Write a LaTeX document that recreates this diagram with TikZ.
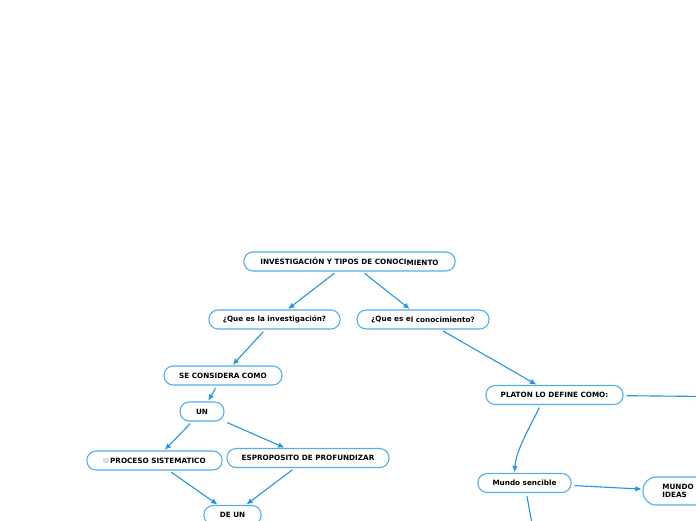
\documentclass[tikz,border=0pt]{standalone}
\usepackage{fontspec}
\setmainfont{DejaVu Sans}
\usetikzlibrary{arrows.meta}
\definecolor{linkblue}{RGB}{36,150,222}
\definecolor{boxblue}{RGB}{86,174,232}
\begin{document}
\begin{tikzpicture}[x=0.025cm, y=-0.025cm,
  topic/.style={draw=boxblue, line width=0.8pt, rounded corners=0.23cm, minimum height=0.475cm, fill=white, inner sep=1pt, align=center, font=\bfseries\fontsize{5.15}{6}\selectfont},
  link/.style={linkblue, line width=0.8pt, shorten <=2pt},
  arrow/.style={link, -{Latex[length=4.5pt, width=4pt]}, shorten >=0.5pt}
]
\useasboundingbox (0,0) rectangle (696,520);
\clip (0,0) rectangle (696,520);

% Root at y=261
\node[topic, minimum width=5.28cm] (root) at (349.5,261.5) {INVESTIGACIÓN Y TIPOS DE CONOCI\raisebox{-0.6pt}{MIENTO}};

% Questions at y=319
\node[topic, minimum width=3.28cm] (invest) at (274.5,319.5) {¿Que es la investigación?};
\node[topic, minimum width=3.3cm] (conoc) at (423,319.5) {¿Que es e\raisebox{-0.6pt}{l conocimiento?}};

% Left branch
\node[topic, minimum width=2.95cm] (considera) at (223,375.5) {SE CONSIDERA COMO};
\node[topic, minimum width=1.1cm] (un) at (202,411.5) {UN};
\node[topic, minimum width=3.38cm] (proceso) at (154.5,460.5) {\textcolor{gray!25}{\rule{4pt}{4pt}}\,PROCESO SISTEMATICO};
\node[topic, minimum width=4.05cm] (proposito) at (308,458) {ESPROPOSITO DE PROFUNDIZAR};
\node[topic, minimum width=1.43cm] (deun) at (232.5,515) {DE UN};

% Right branch
\node[topic, minimum width=3.43cm] (platon) at (554.5,395) {PLATON LO DEFINE COMO:};
\node[topic, minimum width=2.33cm] (sensible) at (524.5,483) {Mundo sencible};
\node[topic, minimum width=1.75cm, minimum height=0.7cm, rounded corners=0.33cm, align=left] (ideas) at (678,491) {MUNDO\\IDEAS};
\coordinate (platonout) at (760,397);
\coordinate (sensibleout) at (535,540);

% Root Connections
\draw[arrow] (root) -- (invest);
\draw[arrow] (root) -- (conoc);

% Investigation Connections
\draw[arrow] (invest) -- (considera);
\draw[arrow] (considera) -- (un);
\draw[arrow] (un) -- (proceso);
\draw[arrow] (un) -- (proposito);
\draw[arrow] (proceso) -- (deun);
\draw[arrow] (proposito) -- (deun);

% Knowledge Connections
\draw[arrow] (conoc) -- (platon);
\draw[link] (platon) -- (platonout);
\draw[arrow] ([xshift=-0.35cm]platon.south) .. controls (531,425) and (516,450) .. ([xshift=-0.25cm]sensible.north);
\draw[arrow] (sensible) -- (ideas);
\draw[link] (sensible) -- (sensibleout);

\end{tikzpicture}
\end{document}
